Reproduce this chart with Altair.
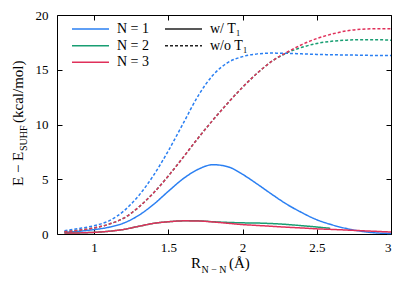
import altair as alt
import pandas as pd

# ---------------- data ----------------
series_names = ["N = 1", "N = 2", "N = 3"]
series_colors = ["#2a7ff2", "#189e72", "#e0305a"]
methods = ["w/ T₁", "w/o T₁"]

x_ticks = [1, 1.5, 2, 2.5, 3]
y_ticks = [0, 5, 10, 15, 20]

r_full = [0.8, 0.9, 1.0, 1.1, 1.2, 1.3, 1.4, 1.5, 1.6, 1.7, 1.8, 1.9,
          2.0, 2.1, 2.2, 2.3, 2.4, 2.5, 2.6, 2.7, 2.8, 2.9, 3.0]
r_n2_wt = [0.8, 0.9, 1.0, 1.1, 1.2, 1.3, 1.4, 1.5, 1.6, 1.7, 1.8, 1.9,
           2.0, 2.1, 2.2, 2.3, 2.4, 2.5, 2.59]

# with T1
e_n1_wt = [0.15, 0.25, 0.40, 0.62, 1.00, 1.70, 2.70, 3.90, 5.05, 5.90, 6.33, 6.15,
           5.45, 4.55, 3.60, 2.70, 1.95, 1.30, 0.85, 0.50, 0.25, 0.10, 0.05]
e_n2_wt = [0.08, 0.10, 0.15, 0.25, 0.42, 0.70, 0.97, 1.12, 1.20, 1.20, 1.12, 1.06,
           1.02, 1.00, 0.95, 0.87, 0.76, 0.64, 0.52]
e_n3_wt = [0.08, 0.10, 0.15, 0.25, 0.42, 0.70, 0.97, 1.12, 1.20, 1.19, 1.10, 0.98,
           0.86, 0.78, 0.70, 0.62, 0.55, 0.47, 0.42, 0.36, 0.30, 0.24, 0.18]

# without T1
e_n1_wo = [0.30, 0.50, 0.76, 1.20, 2.10, 3.50, 5.35, 7.60, 10.1, 12.6, 14.5, 15.65,
           16.2, 16.45, 16.52, 16.5, 16.45, 16.4, 16.37, 16.35, 16.33, 16.3, 16.3]
e_n2_wo = [0.20, 0.35, 0.55, 0.90, 1.45, 2.45, 3.75, 5.30, 7.00, 8.75, 10.4, 11.95,
           13.4, 14.7, 15.8, 16.55, 17.05, 17.4, 17.6, 17.7, 17.75, 17.75, 17.7]
e_n3_wo = [0.20, 0.35, 0.55, 0.90, 1.45, 2.45, 3.75, 5.30, 7.00, 8.75, 10.4, 11.95,
           13.4, 14.7, 15.8, 16.6, 17.3, 17.85, 18.25, 18.55, 18.7, 18.75, 18.75]

# ---------------- layout / style ----------------
W, H = 334, 219
FONT = "Liberation Serif"
TICK_FS = 13
TITLE_FS = 15
SUB_FS = 10
LEG_FS = 14


def sdf(xs, ys, n, m):
    return pd.DataFrame({"r": xs, "e": ys, "N": n, "method": m})


series = [
    sdf(r_full, e_n1_wt, series_names[0], methods[0]),
    sdf(r_n2_wt, e_n2_wt, series_names[1], methods[0]),
    sdf(r_full, e_n3_wt, series_names[2], methods[0]),
    sdf(r_full, e_n1_wo, series_names[0], methods[1]),
    sdf(r_full, e_n2_wo, series_names[1], methods[1]),
    sdf(r_full, e_n3_wo, series_names[2], methods[1]),
]

xscale = alt.Scale(domain=[0.75, 3.0], nice=False, zero=False)
yscale = alt.Scale(domain=[0, 20], nice=False, zero=False)
cscale = alt.Scale(domain=series_names, range=series_colors)
dscale = alt.Scale(domain=methods, range=[[1, 0], [3, 2]])

main_x_axis = alt.Axis(orient="bottom", values=x_ticks, format="~g", ticks=False,
                       tickSize=0, domain=False, grid=False, title=None,
                       labelFont=FONT, labelFontSize=TICK_FS, labelColor="black",
                       labelPadding=7)
main_y_axis = alt.Axis(orient="left", values=y_ticks, format="~g", ticks=False,
                       tickSize=0, domain=False, grid=False, title=None,
                       labelFont=FONT, labelFontSize=TICK_FS, labelColor="black",
                       labelPadding=9)

layers = []
for i, df in enumerate(series):
    layers.append(
        alt.Chart(df).mark_line(strokeWidth=1.5, interpolate="monotone").encode(
            x=alt.X("r:Q", scale=xscale, axis=main_x_axis if i == 0 else None),
            y=alt.Y("e:Q", scale=yscale, axis=main_y_axis if i == 0 else None),
            color=alt.Color("N:N", scale=cscale, legend=None),
            strokeDash=alt.StrokeDash("method:N", scale=dscale, legend=None),
        )
    )


def tick_axis(orient, values, offset):
    return alt.Axis(orient=orient, values=values, offset=offset, labels=False,
                    domain=False, grid=False, title=None, ticks=True, tickSize=5,
                    tickColor="black", tickWidth=1)


# inward ticks: bottom & left
layers.append(
    alt.Chart(series[0]).mark_point(opacity=0).encode(
        x=alt.X("r:Q", scale=xscale, axis=tick_axis("top", x_ticks, -H)),
        y=alt.Y("e:Q", scale=yscale, axis=tick_axis("right", y_ticks, -W)),
    )
)
# inward ticks: top & right
layers.append(
    alt.Chart(series[0]).mark_point(opacity=0).encode(
        x=alt.X("r:Q", scale=xscale, axis=tick_axis("bottom", x_ticks, -H)),
        y=alt.Y("e:Q", scale=yscale, axis=tick_axis("left", y_ticks, -W)),
    )
)


def one(label):
    return alt.Chart(alt.Data(values=[{"t": label}]))


def text(label, x, y, size, align="left", baseline="alphabetic", angle=0):
    kw = dict(font=FONT, fontSize=size, align=align, baseline=baseline, color="black")
    if angle:
        kw["angle"] = angle
    return one(label).mark_text(**kw).encode(
        text="t:N", x=alt.value(x), y=alt.value(y))


# axis titles with subscripts
layers += [
    text("E − E", -34, 171, TITLE_FS, angle=270),
    text("SUHF", -30.5, 136, SUB_FS, angle=270),
    text("(kcal/mol)", -34, 108, TITLE_FS, angle=270),
    text("R", 134, 253, TITLE_FS),
    text("N − N", 144.5, 257.5, SUB_FS),
    text("(Å)", 172, 253, TITLE_FS),
]

# manual legend
leg_rows = [14, 30.7, 47.3]
for name, col, yy in zip(series_names, series_colors, leg_rows):
    layers.append(
        one(name).mark_rule(strokeWidth=1.5, color=col).encode(
            x=alt.value(15), x2=alt.value(52), y=alt.value(yy)))
    layers.append(text(name, 60, yy, LEG_FS, baseline="middle"))

for m, dash, yy in zip(methods, [[1, 0], [3, 2]], leg_rows[:2]):
    layers.append(
        one(m).mark_rule(strokeWidth=1.5, color="#222222", strokeDash=dash).encode(
            x=alt.value(108), x2=alt.value(145), y=alt.value(yy)))
    layers.append(text(m, 153, yy, LEG_FS, baseline="middle"))

chart = (
    alt.layer(*layers)
    .resolve_axis(x="independent", y="independent")
    .properties(
        width=W,
        height=H,
        autosize=alt.AutoSizeParams(type="none"),
        padding={"left": 49, "top": 7, "right": 16, "bottom": 48},
    )
    .configure_view(stroke="black", strokeWidth=1)
)

chart.save("out.html", embed_options={"renderer": "svg", "actions": False})
